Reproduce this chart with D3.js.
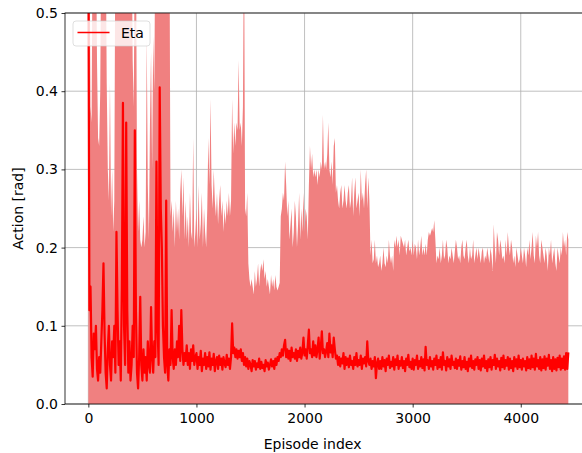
<!DOCTYPE html>
<html>
<head>
<meta charset="utf-8">
<script src="https://cdn.jsdelivr.net/npm/d3@7/dist/d3.min.js"></script>
<style>
  html, body { margin: 0; padding: 0; background: #fff; }
  svg { display: block; font-family: "DejaVu Sans", sans-serif; }
  .tick text { font-size: 14px; fill: #000; }
  .axis-label { font-size: 14px; fill: #000; }
</style>
</head>
<body>
<div id="chart"></div>
<script>
// episode index of each sample (every 10th episode)
const episodeStep = 10;
const xTicks = [0, 1000, 2000, 3000, 4000];
const yTicks = [0.0, 0.1, 0.2, 0.3, 0.4, 0.5];
const seriesName = "Eta";

// upper edge of the shaded band, one row = 100 episodes
const bandUpper = [
  0.62, 0.62, 0.38, 0.36, 0.62, 0.62, 0.62, 0.62, 0.44, 0.34,
  0.33, 0.40, 0.62, 0.62, 0.62, 0.62, 0.62, 0.41, 0.30, 0.26,
  0.41, 0.24, 0.30, 0.22, 0.26, 0.62, 0.62, 0.62, 0.62, 0.62,
  0.62, 0.62, 0.62, 0.62, 0.62, 0.62, 0.62, 0.62, 0.62, 0.62,
  0.62, 0.44, 0.38, 0.62, 0.62, 0.30, 0.22, 0.26, 0.21, 0.20,
  0.21, 0.24, 0.20, 0.22, 0.47, 0.28, 0.21, 0.36, 0.45, 0.30,
  0.47, 0.40, 0.62, 0.62, 0.62, 0.62, 0.62, 0.62, 0.62, 0.62,
  0.62, 0.62, 0.62, 0.62, 0.62, 0.62, 0.24, 0.26, 0.22, 0.25,
  0.20, 0.26, 0.22, 0.25, 0.21, 0.27, 0.30, 0.24, 0.29, 0.21,
  0.26, 0.21, 0.24, 0.20, 0.27, 0.22, 0.21, 0.34, 0.20, 0.22,
  0.25, 0.20, 0.28, 0.21, 0.23, 0.27, 0.20, 0.25, 0.22, 0.20,
  0.25, 0.34, 0.28, 0.39, 0.28, 0.25, 0.30, 0.26, 0.24, 0.27,
  0.23, 0.26, 0.28, 0.24, 0.26, 0.22, 0.25, 0.23, 0.26, 0.24,
  0.27, 0.24, 0.26, 0.39, 0.32, 0.36, 0.33, 0.36, 0.35, 0.44,
  0.35, 0.36, 0.33, 0.38, 0.62, 0.25, 0.24, 0.27, 0.18, 0.16,
  0.15, 0.16, 0.15, 0.14, 0.17, 0.15, 0.16, 0.18, 0.15, 0.17,
  0.18, 0.17, 0.185, 0.16, 0.17, 0.15, 0.16, 0.15, 0.14, 0.165,
  0.15, 0.16, 0.145, 0.165, 0.15, 0.145, 0.15, 0.155, 0.24, 0.25,
  0.27, 0.26, 0.31, 0.28, 0.24, 0.26, 0.21, 0.23, 0.25, 0.20,
  0.22, 0.26, 0.24, 0.20, 0.23, 0.27, 0.21, 0.25, 0.22, 0.27,
  0.22, 0.25, 0.24, 0.21, 0.28, 0.33, 0.30, 0.32, 0.29, 0.30,
  0.29, 0.30, 0.28, 0.30, 0.29, 0.31, 0.30, 0.37, 0.30, 0.31,
  0.30, 0.32, 0.36, 0.30, 0.29, 0.31, 0.28, 0.33, 0.34, 0.27,
  0.28, 0.26, 0.25, 0.27, 0.28, 0.25, 0.26, 0.28, 0.26, 0.25,
  0.27, 0.28, 0.25, 0.26, 0.29, 0.24, 0.27, 0.29, 0.25, 0.26,
  0.27, 0.24, 0.30, 0.26, 0.27, 0.25, 0.28, 0.30, 0.25, 0.29,
  0.26, 0.19, 0.21, 0.18, 0.185, 0.21, 0.18, 0.19, 0.175, 0.18,
  0.19, 0.17, 0.18, 0.20, 0.18, 0.175, 0.19, 0.18, 0.21, 0.19,
  0.18, 0.19, 0.17, 0.21, 0.20, 0.215, 0.20, 0.21, 0.19, 0.215,
  0.21, 0.205, 0.20, 0.21, 0.19, 0.20, 0.21, 0.195, 0.20, 0.19,
  0.21, 0.19, 0.205, 0.20, 0.185, 0.21, 0.19, 0.20, 0.215, 0.19,
  0.20, 0.19, 0.205, 0.19, 0.21, 0.22, 0.215, 0.22, 0.225, 0.22,
  0.235, 0.21, 0.18, 0.19, 0.185, 0.20, 0.18, 0.19, 0.21, 0.185,
  0.19, 0.21, 0.20, 0.18, 0.19, 0.185, 0.20, 0.19, 0.18, 0.195,
  0.21, 0.20, 0.185, 0.19, 0.18, 0.20, 0.21, 0.19, 0.185, 0.20,
  0.21, 0.19, 0.18, 0.20, 0.185, 0.19, 0.21, 0.18, 0.19, 0.20,
  0.185, 0.20, 0.19, 0.18, 0.195, 0.20, 0.18, 0.19, 0.185, 0.20,
  0.19, 0.18, 0.20, 0.19, 0.17, 0.23, 0.20, 0.18, 0.22, 0.21,
  0.19, 0.21, 0.20, 0.185, 0.19, 0.18, 0.21, 0.19, 0.22, 0.20,
  0.19, 0.21, 0.20, 0.18, 0.19, 0.175, 0.20, 0.19, 0.18, 0.185,
  0.20, 0.19, 0.18, 0.20, 0.19, 0.175, 0.20, 0.19, 0.21, 0.185,
  0.20, 0.22, 0.19, 0.18, 0.215, 0.20, 0.22, 0.19, 0.18, 0.21,
  0.20, 0.19, 0.18, 0.20, 0.19, 0.17, 0.20, 0.19, 0.21, 0.18,
  0.19, 0.20, 0.18, 0.17, 0.20, 0.19, 0.18, 0.20, 0.19, 0.22,
  0.20, 0.21, 0.19, 0.22, 0.21
];

// the Eta line itself
const etaValues = [
  0.60, 0.12, 0.15, 0.06, 0.035, 0.09, 0.07, 0.10, 0.045, 0.03,
  0.06, 0.04, 0.08, 0.12, 0.18, 0.09, 0.04, 0.02, 0.07, 0.10,
  0.05, 0.03, 0.08, 0.06, 0.10, 0.04, 0.22, 0.12, 0.05, 0.08,
  0.03, 0.15, 0.385, 0.10, 0.05, 0.36, 0.12, 0.04, 0.08, 0.03,
  0.05, 0.10, 0.06, 0.35, 0.12, 0.04, 0.02, 0.06, 0.137, 0.05,
  0.03, 0.07, 0.04, 0.06, 0.03, 0.08, 0.05, 0.04, 0.124, 0.06,
  0.04, 0.08, 0.06, 0.31, 0.10, 0.05, 0.405, 0.25, 0.20, 0.10,
  0.06, 0.04, 0.26, 0.05, 0.03, 0.07, 0.05, 0.12, 0.06, 0.045,
  0.07, 0.05, 0.08, 0.06, 0.10, 0.055, 0.12, 0.07, 0.05, 0.065,
  0.055, 0.075, 0.05, 0.065, 0.045, 0.07, 0.055, 0.075, 0.05, 0.06,
  0.065, 0.045, 0.06, 0.05, 0.068, 0.042, 0.058, 0.05, 0.065, 0.045,
  0.06, 0.048, 0.066, 0.044, 0.058, 0.05, 0.064, 0.042, 0.055, 0.06,
  0.045, 0.062, 0.05, 0.058, 0.044, 0.06, 0.052, 0.047, 0.063, 0.05,
  0.058, 0.045, 0.06, 0.103, 0.065, 0.072, 0.06, 0.07, 0.058, 0.068,
  0.06, 0.07, 0.055, 0.065, 0.05, 0.06, 0.048, 0.058, 0.045, 0.055,
  0.05, 0.042, 0.056, 0.048, 0.055, 0.044, 0.052, 0.047, 0.058, 0.045,
  0.054, 0.046, 0.05, 0.042, 0.056, 0.048, 0.053, 0.044, 0.05, 0.057,
  0.048, 0.055, 0.045, 0.058, 0.05, 0.06, 0.055, 0.065, 0.06, 0.07,
  0.062, 0.075, 0.082, 0.06, 0.07, 0.058, 0.068, 0.055, 0.072, 0.06,
  0.065, 0.058, 0.07, 0.055, 0.068, 0.06, 0.072, 0.058, 0.066, 0.085,
  0.062, 0.07, 0.058, 0.075, 0.095, 0.065, 0.07, 0.06, 0.08, 0.062,
  0.075, 0.06, 0.07, 0.085, 0.058, 0.072, 0.093, 0.065, 0.07, 0.06,
  0.068, 0.078, 0.06, 0.09, 0.066, 0.075, 0.06, 0.085, 0.07, 0.058,
  0.062, 0.05, 0.06, 0.048, 0.058, 0.052, 0.065, 0.045, 0.06, 0.05,
  0.058, 0.047, 0.062, 0.05, 0.055, 0.045, 0.06, 0.05, 0.065, 0.048,
  0.056, 0.05, 0.062, 0.045, 0.058, 0.052, 0.06, 0.048, 0.08, 0.055,
  0.05, 0.058, 0.045, 0.055, 0.048, 0.06, 0.033, 0.052, 0.058, 0.045,
  0.055, 0.045, 0.06, 0.048, 0.056, 0.042, 0.058, 0.05, 0.062, 0.046,
  0.054, 0.048, 0.06, 0.044, 0.057, 0.05, 0.062, 0.045, 0.055, 0.049,
  0.06, 0.046, 0.055, 0.042, 0.058, 0.05, 0.063, 0.047, 0.054, 0.045,
  0.058, 0.044, 0.056, 0.05, 0.062, 0.045, 0.055, 0.048, 0.06, 0.046,
  0.057, 0.043, 0.073, 0.05, 0.056, 0.045, 0.06, 0.048, 0.055, 0.044,
  0.058, 0.05, 0.062, 0.045, 0.056, 0.047, 0.06, 0.044, 0.066, 0.05,
  0.055, 0.043, 0.06, 0.048, 0.057, 0.045, 0.062, 0.05, 0.054, 0.046,
  0.058, 0.045, 0.056, 0.049, 0.061, 0.044, 0.055, 0.047, 0.06, 0.045,
  0.054, 0.042, 0.058, 0.048, 0.062, 0.046, 0.055, 0.044, 0.057, 0.05,
  0.06, 0.045, 0.056, 0.043, 0.058, 0.048, 0.062, 0.046, 0.055, 0.042,
  0.057, 0.047, 0.06, 0.044, 0.056, 0.05, 0.063, 0.045, 0.058, 0.048,
  0.055, 0.043, 0.059, 0.047, 0.062, 0.045, 0.056, 0.049, 0.06, 0.044,
  0.058, 0.046, 0.055, 0.042, 0.06, 0.048, 0.057, 0.045, 0.062, 0.047,
  0.056, 0.044, 0.058, 0.048, 0.055, 0.043, 0.06, 0.046, 0.057, 0.045,
  0.062, 0.047, 0.058, 0.044, 0.064, 0.048, 0.056, 0.045, 0.06, 0.043,
  0.057, 0.046, 0.061, 0.044, 0.058, 0.049, 0.063, 0.045, 0.056, 0.042,
  0.06, 0.045, 0.057, 0.043, 0.059, 0.047, 0.062, 0.044, 0.058, 0.046,
  0.061, 0.044, 0.065, 0.045, 0.066
];

const width = 582, height = 453;
const margin = { top: 13, left: 65, bottom: 49 };
const plotRight = 592; // right spine sits just outside the picture

const svg = d3.select("#chart").append("svg").attr("width", width).attr("height", height);

const x = d3.scaleLinear().domain([-216, 4659]).range([margin.left, plotRight]);
const y = d3.scaleLinear().domain([0, 0.5]).range([height - margin.bottom, margin.top]);
const y0 = y(0), y1 = y(0.5);

svg.append("defs").append("clipPath").attr("id", "plotClip")
  .append("rect").attr("x", margin.left).attr("y", y1).attr("width", plotRight - margin.left).attr("height", y0 - y1);

// grid
const grid = svg.append("g").attr("stroke", "#b0b0b0").attr("stroke-width", 0.8);
grid.selectAll("line.gx").data(xTicks).enter().append("line")
  .attr("x1", (d) => x(d)).attr("x2", (d) => x(d)).attr("y1", y0).attr("y2", y1);
grid.selectAll("line.gy").data(yTicks).enter().append("line")
  .attr("x1", margin.left).attr("x2", plotRight).attr("y1", (d) => y(d)).attr("y2", (d) => y(d));

const plot = svg.append("g").attr("clip-path", "url(#plotClip)");

const band = d3.area()
  .x((_, i) => x(i * episodeStep))
  .y0(y(0))
  .y1((d) => y(d));
plot.append("path").datum(bandUpper).attr("d", band).attr("fill", "#f08080");

const line = d3.line()
  .x((_, i) => x(i * episodeStep))
  .y((d) => y(d));
plot.append("path").datum(etaValues).attr("d", line)
  .attr("fill", "none").attr("stroke", "#ff0000").attr("stroke-width", 2.2).attr("stroke-linejoin", "round");

// axes
const xAxis = svg.append("g").attr("transform", `translate(0,${y0})`)
  .call(d3.axisBottom(x).tickValues(xTicks).tickSize(3.5).tickPadding(3.5).tickFormat(d3.format("d")));
const yAxis = svg.append("g").attr("transform", `translate(${margin.left},0)`)
  .call(d3.axisLeft(y).tickValues(yTicks).tickSize(3.5).tickPadding(3.5).tickFormat(d3.format(".1f")));
[xAxis, yAxis].forEach((g) => {
  g.select(".domain").remove();
  g.selectAll(".tick line").attr("stroke", "#000").attr("stroke-width", 0.8);
  g.selectAll(".tick text").attr("font-family", "DejaVu Sans").style("font-size", "14px");
});
xAxis.selectAll(".tick text").attr("dy", "0.85em");

// spines
svg.append("g").attr("stroke", "#000").attr("stroke-width", 0.8).attr("fill", "none")
  .append("rect").attr("x", margin.left).attr("y", y1).attr("width", plotRight - margin.left).attr("height", y0 - y1);

svg.append("text").attr("class", "axis-label")
  .attr("x", x(2000) + 8).attr("y", 449).attr("text-anchor", "middle")
  .text("Episode index");

svg.append("text").attr("class", "axis-label")
  .attr("transform", `translate(23,${(y0 + y1) / 2}) rotate(-90)`)
  .attr("text-anchor", "middle")
  .text("Action [rad]");

// legend
const legend = svg.append("g").attr("transform", "translate(73,21)");
legend.append("rect").attr("width", 77).attr("height", 25).attr("rx", 3)
  .attr("fill", "rgba(255,255,255,0.8)").attr("stroke", "rgba(204,204,204,0.8)").attr("stroke-width", 0.8);
legend.append("line").attr("x1", 4.5).attr("x2", 36.5).attr("y1", 11.5).attr("y2", 11.5)
  .attr("stroke", "#ff0000").attr("stroke-width", 1.5);
legend.append("text").attr("class", "axis-label").attr("x", 48).attr("y", 16.5).text(seriesName);
</script>
</body>
</html>
